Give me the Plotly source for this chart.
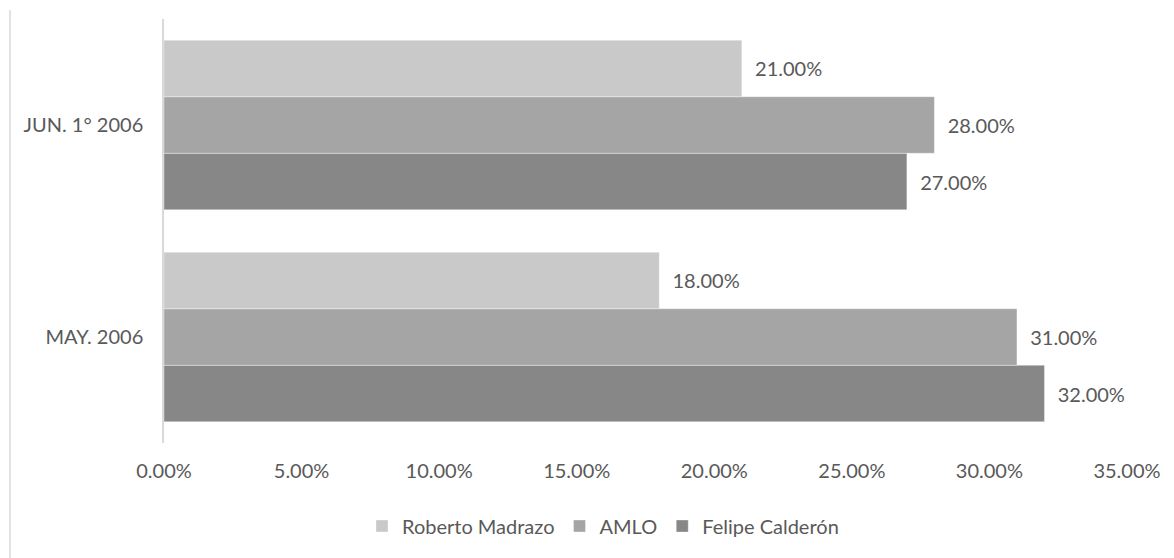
import plotly.graph_objects as go

# Poll dates (bottom to top) and candidate shares per date
fechas = ["MAY. 2006", "JUN. 1° 2006"]
madrazo = [0.18, 0.21]
amlo = [0.31, 0.28]
calderon = [0.32, 0.27]

x_ticks = [0, 0.05, 0.10, 0.15, 0.20, 0.25, 0.30, 0.35]

FONT = "Lato"
TXT = "#595959"
SIZE = 20

# Traces are added bottom-up so Madrazo sits on top of each group
series = [
    ("Felipe Calderón", calderon, "#878787"),
    ("AMLO", amlo, "#a5a5a5"),
    ("Roberto Madrazo", madrazo, "#c9c9c9"),
]

fig = go.Figure()
for name, vals, color in series:
    fig.add_trace(go.Bar(
        name=name,
        y=fechas,
        x=vals,
        orientation="h",
        marker=dict(color=color, line=dict(color="rgba(255,255,255,0.35)", width=1)),
        texttemplate="\u00a0\u00a0%{x:.2%}",
        textposition="outside",
        textfont=dict(family=FONT, size=SIZE, color=TXT),
        cliponaxis=False,
    ))

fig.update_layout(
    width=1174,
    height=558,
    margin=dict(l=164, r=47, t=19, b=115),
    paper_bgcolor="white",
    plot_bgcolor="white",
    barmode="group",
    bargap=0.2,
    bargroupgap=0,
    font=dict(family=FONT, size=SIZE, color=TXT),
    showlegend=True,
    legend=dict(
        orientation="h",
        traceorder="reversed",
        x=603 / 1174,
        xanchor="center",
        xref="container",
        y=1 - 526 / 558,
        yanchor="middle",
        yref="container",
        font=dict(family=FONT, size=SIZE, color=TXT),
        itemwidth=30,
        tracegroupgap=0,
    ),
    xaxis=dict(
        range=[0, 0.35],
        tickvals=x_ticks,
        tickformat=".2%",
        showgrid=False,
        zeroline=False,
        showline=False,
        ticks="",
        ticklabelstandoff=14,
        fixedrange=True,
    ),
    yaxis=dict(
        categoryorder="array",
        categoryarray=fechas,
        showgrid=False,
        zeroline=False,
        showline=True,
        linecolor="#d9d9d9",
        linewidth=1.5,
        ticks="",
        ticklabelstandoff=15,
        fixedrange=True,
    ),
    shapes=[
        dict(
            type="line",
            xref="paper",
            yref="paper",
            x0=(10 - 164) / 963,
            x1=(10 - 164) / 963,
            y0=(443 - 10) / 424,
            y1=(443 - 560) / 424,
            line=dict(color="#d9d9d9", width=1.5),
        )
    ],
)

fig.write_html("out.html")
